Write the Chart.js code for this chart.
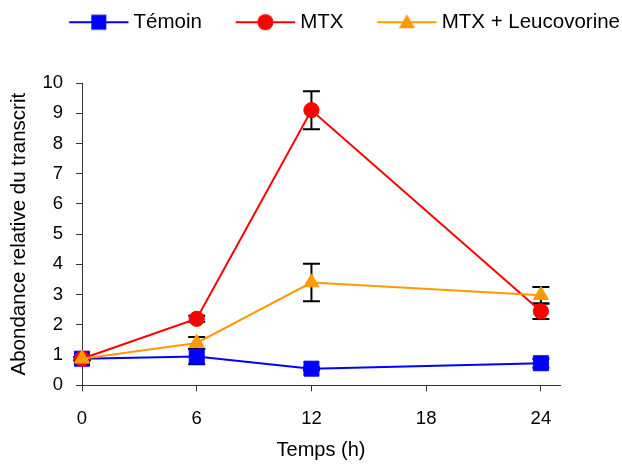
<!DOCTYPE html>
<html>
<head>
<meta charset="utf-8">
<script src="https://cdn.jsdelivr.net/npm/chart.js@4/dist/chart.umd.min.js"></script>
<style>
html,body{margin:0;padding:0;background:#fff;}
#wrap{width:622px;height:464px;}
</style>
</head>
<body>
<div id="wrap"><canvas id="c" width="622" height="464"></canvas></div>
<script>
// ---- data ----
const timeHours = [0, 6, 12, 24];
const xTickValues = [0, 6, 12, 18, 24];
const seriesNames = ['Témoin', 'MTX', 'MTX + Leucovorine'];
const temoinValues = [0.88, 0.95, 0.55, 0.73];
const temoinErrors = [0.05, 0.25, 0.05, 0.15];
const mtxValues = [0.88, 2.2, 9.1, 2.45];
const mtxErrors = [0.05, 0.1, 0.63, 0.26];
const leucoValues = [0.88, 1.4, 3.4, 2.98];
const leucoErrors = [0.05, 0.2, 0.62, 0.27];
const seriesColors = ['#0000FF', '#FF0000', '#FF9900'];

const seriesValues = [temoinValues, mtxValues, leucoValues];
const seriesErrors = [temoinErrors, mtxErrors, leucoErrors];
const FONT = "'Liberation Sans', Arial, sans-serif";

Chart.defaults.font.family = FONT;
Chart.defaults.color = '#000';

// legend glyphs: line + marker
function makeIcon(color, shape) {
  const cv = document.createElement('canvas');
  cv.width = 98; cv.height = 22;
  const g = cv.getContext('2d');
  g.strokeStyle = color; g.fillStyle = color; g.lineWidth = 2;
  g.beginPath(); g.moveTo(37.75, 11); g.lineTo(97.25, 11); g.stroke();
  const cx = 67.5, cy = 11;
  g.beginPath();
  if (shape === 'rect') {
    g.rect(cx - 7.5, cy - 7.5, 15, 15);
  } else if (shape === 'circle') {
    g.arc(cx, cy, 8, 0, Math.PI * 2);
  } else {
    g.moveTo(cx, cy - 8); g.lineTo(cx + 8, cy + 6); g.lineTo(cx - 8, cy + 6); g.closePath();
  }
  g.fill();
  return cv;
}
const shapes = ['rect', 'circle', 'triangle'];
const legendIcons = seriesColors.map((c, i) => makeIcon(c, shapes[i]));
const pointRadii = [10.6, 7.6, 8.7];

const errorBarPlugin = {
  id: 'errorBars',
  beforeDatasetsDraw(chart) {
    const {ctx, scales: {x, y}} = chart;
    ctx.save();
    ctx.strokeStyle = '#000';
    ctx.lineWidth = 2;
    seriesErrors.forEach((errs, di) => {
      const vals = seriesValues[di];
      timeHours.forEach((t, i) => {
        const px = x.getPixelForValue(t);
        const top = y.getPixelForValue(vals[i] + errs[i]);
        const bot = y.getPixelForValue(vals[i] - errs[i]);
        ctx.beginPath();
        ctx.moveTo(px, top); ctx.lineTo(px, bot);
        ctx.moveTo(px - 8.5, top); ctx.lineTo(px + 8.5, top);
        ctx.moveTo(px - 8.5, bot); ctx.lineTo(px + 8.5, bot);
        ctx.stroke();
      });
    });
    ctx.restore();
  }
};

const datasets = seriesNames.map((name, i) => ({
  label: name,
  data: timeHours.map((t, k) => ({x: t, y: seriesValues[i][k]})),
  borderColor: seriesColors[i],
  backgroundColor: seriesColors[i],
  borderWidth: 2,
  pointStyle: shapes[i],
  pointRadius: pointRadii[i],
  pointHoverRadius: pointRadii[i],
  pointBorderWidth: 1,
  pointBorderColor: seriesColors[i],
  pointBackgroundColor: seriesColors[i],
  tension: 0,
  clip: false,
  order: 3 - i
}));

new Chart(document.getElementById('c'), {
  type: 'line',
  data: {datasets},
  plugins: [errorBarPlugin],
  options: {
    responsive: false,
    animation: false,
    devicePixelRatio: 1,
    layout: {padding: {top: 10, left: 3, right: 0, bottom: 0}},
    plugins: {
      tooltip: {enabled: false},
      title: {display: true, text: '', weight: 500, padding: {top: 40.5, bottom: 0}, font: {size: 1, lineHeight: 0}},
      legend: {
        position: 'top',
        align: 'end',
        weight: 1000,
        labels: {
          usePointStyle: true,
          pointStyleWidth: 86,
          padding: 2,
          color: '#000',
          font: {family: FONT, size: 20.5},
          generateLabels: (chart) => {
            const items = Chart.defaults.plugins.legend.labels.generateLabels(chart);
            items.forEach(it => { it.pointStyle = legendIcons[it.datasetIndex]; });
            items.sort((a, b) => a.datasetIndex - b.datasetIndex);
            return items;
          }
        }
      }
    },
    scales: {
      x: {
        type: 'linear',
        min: 0,
        max: 25,
        afterBuildTicks: (s) => { s.ticks = xTickValues.map(v => ({value: v})); },
        afterFit: (s) => { s.paddingRight = 62; s.height = 78.7; },
        grid: {drawOnChartArea: false, drawTicks: true, tickLength: 6, color: '#333', lineWidth: 1},
        border: {display: true, color: '#333', width: 1},
        ticks: {color: '#000', font: {family: FONT, size: 18.5}, padding: 17, maxRotation: 0, autoSkip: false},
        title: {display: true, text: 'Temps (h)', color: '#000', font: {family: FONT, size: 20}, padding: {top: 8, bottom: 2}}
      },
      y: {
        min: 0,
        max: 10,
        afterFit: (s) => { s.width = 79; },
        grid: {drawOnChartArea: false, drawTicks: true, tickLength: 6, color: '#333', lineWidth: 1},
        border: {display: true, color: '#333', width: 1},
        ticks: {stepSize: 1, color: '#000', font: {family: FONT, size: 18.5}, padding: 13},
        title: {display: true, text: 'Abondance relative du transcrit', color: '#000', font: {family: FONT, size: 20.5}, padding: {top: 4, bottom: 11}}
      }
    }
  }
});
</script>
</body>
</html>
